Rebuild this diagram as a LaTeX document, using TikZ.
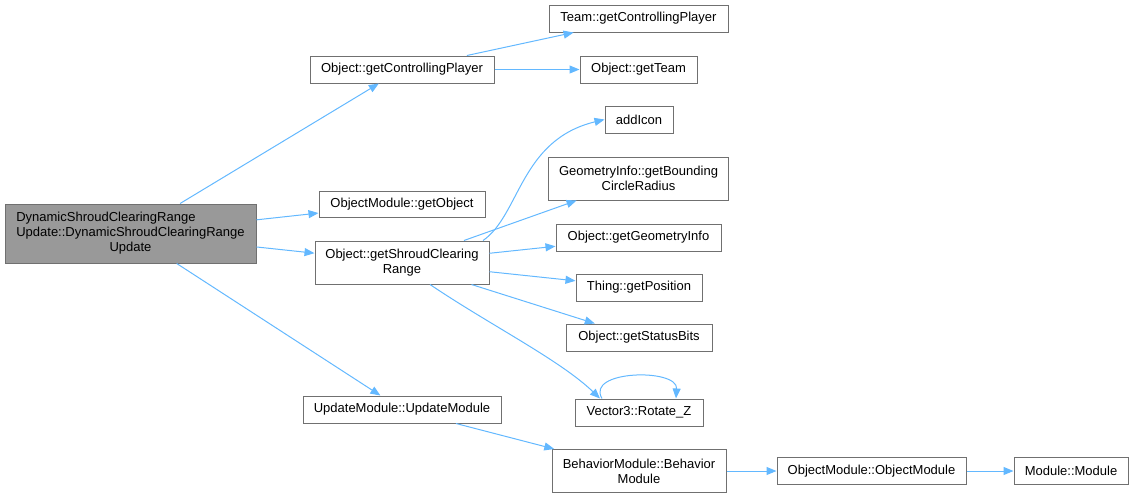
\documentclass[tikz,border=0pt]{standalone}
\usepackage{fontspec}
\setmainfont{Liberation Sans}
\usetikzlibrary{arrows.meta}
\definecolor{edgeblue}{HTML}{63B8FF}
\definecolor{boxgray}{HTML}{707070}
\definecolor{rootgray}{HTML}{999999}
\begin{document}
\begin{tikzpicture}[x=1pt,y=-1pt,
  fn/.style={draw=boxgray, fill=white, line width=1pt, inner sep=0pt, align=center,
    font=\fontsize{13}{15}\selectfont},
  call/.style={draw=edgeblue, line width=1pt, -{Triangle[length=10pt,width=8pt]}}]
\useasboundingbox (0,0) rectangle (1133,499);
% funzione di partenza
\node[fn, fill=rootgray, minimum width=251, minimum height=59] (root) at (130.5,233.5)
  {\begin{tabular}{@{}l@{}}DynamicShroudClearingRange\\Update::DynamicShroudClearingRange\\\multicolumn{1}{@{}c@{}}{Update}\end{tabular}};
% primo livello
\node[fn, minimum width=184, minimum height=27] (ocp) at (402,69.5) {Object::getControllingPlayer};
\node[fn, minimum width=166, minimum height=26] (omgo) at (402,204) {ObjectModule::getObject};
\node[fn, minimum width=174, minimum height=43] (oscr) at (402,262.5) {Object::getShroudClearing\\Range};
\node[fn, minimum width=198, minimum height=27] (umod) at (402,409.5) {UpdateModule::UpdateModule};
% secondo livello
\node[fn, minimum width=179, minimum height=27] (tcp) at (638.5,18.5) {Team::getControllingPlayer};
\node[fn, minimum width=117, minimum height=27] (oteam) at (638.5,69.5) {Object::getTeam};
\node[fn, minimum width=68, minimum height=27] (addicon) at (639,119.5) {addIcon};
\node[fn, minimum width=180, minimum height=43] (geo) at (638.5,178.5) {GeometryInfo::getBounding\\CircleRadius};
\node[fn, minimum width=165, minimum height=27] (ogeo) at (638.5,237.5) {Object::getGeometryInfo};
\node[fn, minimum width=126, minimum height=27] (pos) at (639,287.5) {Thing::getPosition};
\node[fn, minimum width=146, minimum height=27] (sbits) at (639,337.5) {Object::getStatusBits};
\node[fn, minimum width=128, minimum height=27] (rotz) at (639,412.5) {Vector3::Rotate\_Z};
\node[fn, minimum width=174, minimum height=43] (bmod) at (639,471) {BehaviorModule::Behavior\\Module};
% costruttori
\node[fn, minimum width=189, minimum height=27] (omod) at (871.5,471) {ObjectModule::ObjectModule};
\node[fn, minimum width=114, minimum height=27] (mod) at (1071,471) {Module::Module};
% chiamate
\draw[call] (root) -- (ocp);
\draw[call] (root) -- (omgo);
\draw[call] (root) -- (oscr);
\draw[call] (root) -- (umod);
\draw[call] (ocp) -- (tcp);
\draw[call] (ocp) -- (oteam);
\draw[call] ([xshift=81pt]oscr.north) .. controls (520,215) and (520,140) .. (addicon.west);
\draw[call] (oscr) -- (geo);
\draw[call] (oscr) -- (ogeo);
\draw[call] (oscr) -- (pos);
\draw[call] (oscr) -- (sbits);
\draw[call] ([xshift=28pt]oscr.south) .. controls (490,325) and (560,360) .. ([xshift=-39pt]rotz.north);
\draw[call] ([xshift=-37pt]rotz.north) .. controls (585,370) and (678,368) .. ([xshift=37pt]rotz.north);
\draw[call] (umod) -- (bmod);
\draw[call] (bmod) -- (omod);
\draw[call] (omod) -- (mod);
\end{tikzpicture}
\end{document}
